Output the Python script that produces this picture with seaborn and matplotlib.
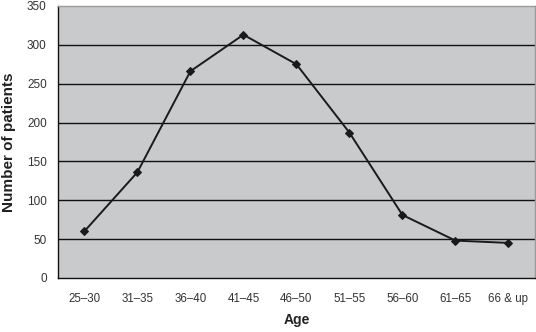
import matplotlib
matplotlib.use("Agg")
import matplotlib.pyplot as plt
import seaborn as sns
import pandas as pd
import numpy as np
from matplotlib.ticker import FixedLocator

categories = ["25–30", "31–35", "36–40", "41–45", "46–50", "51–55", "56–60", "61–65", "66 & up"]
patients = [60, 136, 266, 313, 275, 187, 81, 48, 45]
yticks = [0, 50, 100, 150, 200, 250, 300, 350]

sns.set_style("white")
plt.rcParams['font.family'] = ['Liberation Sans', 'DejaVu Sans']

df = pd.DataFrame({"pos": np.arange(len(categories)), "patients": patients})

fig = plt.figure(figsize=(5.36, 3.32), dpi=100)
ax = fig.add_axes([0.108, 0.163, 0.89, 0.819])
ax.set_facecolor("#c9cacc")

sns.lineplot(data=df, x="pos", y="patients", ax=ax, color="#1a1a1a",
             marker="D", markersize=4.5, linewidth=1.4, markeredgecolor="#1a1a1a", zorder=3)

ax.set_xlim(-0.5, len(categories) - 0.5)
ax.set_ylim(0, 350)
ax.set_yticks(yticks)
ax.set_yticklabels([str(v) for v in yticks], fontsize=8.5, color="#333333")
ax.set_xticks(np.arange(len(categories)))
ax.set_xticklabels(categories, fontsize=8.3, color="#333333")
ax.xaxis.set_minor_locator(FixedLocator(np.arange(-0.5, len(categories), 1.0)))
ax.tick_params(axis="x", which="major", length=0, pad=11)
ax.tick_params(axis="x", which="minor", length=4, width=0.8, color="#222222", direction="out")
ax.tick_params(axis="y", which="major", length=4, width=0.8, color="#222222", direction="out", pad=4)

for v in yticks[1:-1]:
    ax.axhline(v, color="#111111", linewidth=1.0, zorder=1)

for side in ["left", "bottom"]:
    ax.spines[side].set_color("#111111")
    ax.spines[side].set_linewidth(1.0)
for side in ["top", "right"]:
    ax.spines[side].set_visible(True)
    ax.spines[side].set_color("#9a9a9a")
    ax.spines[side].set_linewidth(1.0)

ax.set_xlabel("Age", fontsize=10, fontweight="bold", color="#222222", labelpad=6)
ax.set_ylabel("Number of patients", fontsize=11, fontweight="bold", color="#222222", labelpad=8)

fig.savefig("out.png", dpi=100)
